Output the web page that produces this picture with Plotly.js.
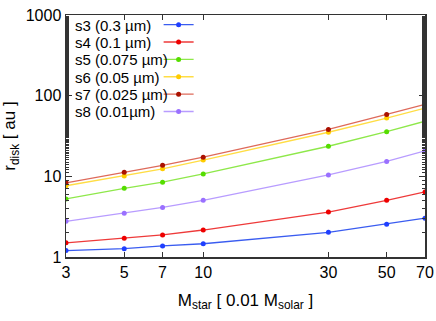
<!DOCTYPE html>
<html>
<head>
<meta charset="utf-8">
<script src="https://cdn.plot.ly/plotly-3.0.1.min.js"></script>
<style>
  html, body { margin: 0; padding: 0; background: #fff; }
  #plot { width: 436px; height: 321px; }
</style>
</head>
<body>
<div id="plot"></div>
<script>
// stellar mass in units of 0.01 M_solar
const mStar = [3, 5, 7, 10, 30, 50, 70];

// r_disk [au] per grain size
const s3 = [1.20, 1.27, 1.37, 1.46, 2.02, 2.55, 3.03];
const s4 = [1.50, 1.71, 1.88, 2.16, 3.61, 5.04, 6.41];
const s5 = [5.24, 7.11, 8.47, 10.7, 23.6, 35.8, 48.2];
const s6 = [7.64, 10.1, 12.4, 15.9, 35.2, 52.8, 70.3];
const s7 = [8.30, 11.2, 13.7, 17.3, 38.2, 58.5, 78.0];
const s8 = [2.77, 3.48, 4.12, 5.04, 10.4, 15.3, 20.7];

const labels = ['s3 (0.3 µm)', 's4 (0.1 µm)', 's5 (0.075 µm)', 's6 (0.05 µm)', 's7 (0.025 µm)', 's8 (0.01µm)'];
const series = [s3, s4, s5, s6, s7, s8];

const lineColors = ['#3a5cf0', '#ee3a3a', '#8ee84a', '#ffdd44', '#de6a5a', '#b89cff'];
const markerColors = ['#1f3fff', '#ee0000', '#55dd00', '#ffcc00', '#aa1100', '#9a70ff'];

const xTicks = [3, 5, 7, 10, 30, 50, 70];
const yTicks = [1, 10, 100, 1000];

const font = 'Liberation Sans, Arial, sans-serif';

// key rows (text on the left, sample on the right, like gnuplot)
const rowTop = 19.3;
const rowStep = 17.8;
const plotTop = 9;
const plotH = 248;

function rowY(i) {
    return 1 - (rowTop + rowStep * i - plotTop) / plotH;
}

function legendId(i) {
    return i === 0 ? 'legend' : 'legend' + (i + 1);
}

function makeTraces() {
    return series.map((ys, i) => {
        return {
            x: mStar,
            y: ys,
            name: '\u00a0',
            legend: legendId(i),
            type: 'scatter',
            mode: 'lines+markers',
            line: { color: lineColors[i], width: 1.3 },
            marker: { color: markerColors[i], size: 5 }
        };
    });
}

function makeLabels() {
    return labels.map((t, i) => {
        return {
            text: t,
            xref: 'paper',
            yref: 'paper',
            x: 0.02,
            y: rowY(i),
            xanchor: 'left',
            yanchor: 'middle',
            showarrow: false,
            font: { family: font, size: 15, color: '#000' }
        };
    });
}

const layout = {
    width: 436,
    height: 321,
    margin: { l: 66, r: 11, t: 9, b: 64 },
    paper_bgcolor: '#fff',
    plot_bgcolor: '#fff',
    font: { family: font, size: 16, color: '#000' },
    showlegend: true,
    xaxis: {
        type: 'log',
        range: [Math.log10(3), Math.log10(70)],
        tickvals: xTicks,
        ticktext: xTicks.map(String),
        ticks: 'inside',
        ticklen: 5,
        tickcolor: '#333',
        showline: true,
        linecolor: '#333',
        linewidth: 1.5,
        mirror: 'ticks',
        showgrid: false,
        zeroline: false,
        tickfont: { family: font, size: 16 },
        title: {
            text: 'M<sub>star</sub> [ 0.01 M<sub>solar</sub> ]',
            font: { family: font, size: 17 },
            standoff: 14
        }
    },
    yaxis: {
        type: 'log',
        range: [0, 3],
        tickvals: yTicks,
        ticktext: yTicks.map(String),
        ticks: 'inside',
        ticklen: 6,
        tickcolor: '#333',
        minor: { ticks: 'inside', ticklen: 3, tickcolor: '#333', showgrid: false },
        showline: true,
        linecolor: '#333',
        linewidth: 1.5,
        mirror: 'ticks',
        showgrid: false,
        zeroline: false,
        tickfont: { family: font, size: 16 },
        title: {
            text: 'r<sub>disk</sub> [ au ]',
            font: { family: font, size: 17 },
            standoff: 6
        }
    },
    annotations: makeLabels()
};

// one small key box per series, so each sample sits on its label's row
series.forEach((ys, i) => {
    layout[legendId(i)] = {
        x: 0.258,
        y: rowY(i),
        xanchor: 'left',
        yanchor: 'middle',
        bgcolor: 'rgba(0,0,0,0)',
        font: { family: font, size: 14 }
    };
});

Plotly.newPlot('plot', makeTraces(), layout, { staticPlot: true, displayModeBar: false })
    .then((gd) => {
        // the key labels are annotations, drop the blank legend texts
        gd.querySelectorAll('.legendtext').forEach((el) => el.remove());
    });
</script>
</body>
</html>
